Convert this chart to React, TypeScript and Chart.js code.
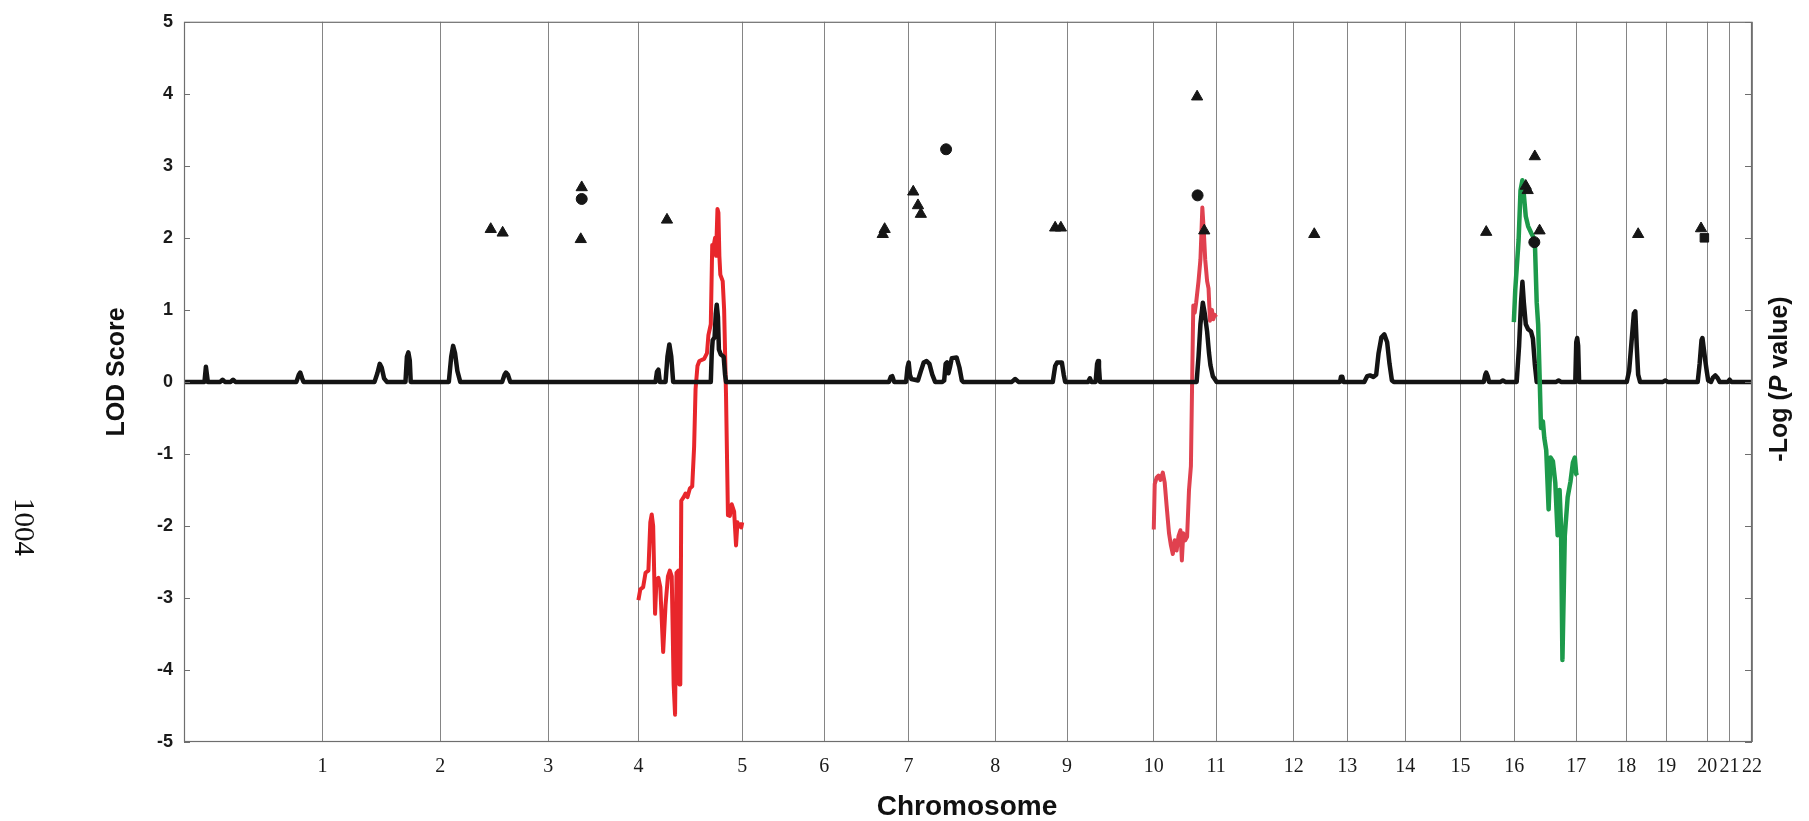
import React, { useEffect, useRef } from "react";
import { Chart, registerables } from "chart.js";

Chart.register(...registerables);

// Chromosome boundaries (cumulative cM) and their labels
const chromosomeLabels = ["1","2","3","4","5","6","7","8","9","10","11","12","13","14","15","16","17","18","19","20","21","22"];
const chromosomeEnds = [291, 538, 765, 954, 1172, 1344, 1521, 1703, 1854, 2036, 2167, 2330, 2442, 2564, 2680, 2793, 2923, 3028, 3112, 3198, 3245, 3292];

// Genome-wide LOD score (black) [cM, LOD]
const lodScore: [number, number][] = [
  [0,0],
  [43,0],[46,0.21],[50,0],
  [76,0],[81,0.03],[86,0],[98,0],[103,0.03],[108,0],
  [236,0],[241,0.1],[244,0.13],[248,0.05],[251,0],
  [400,0],[406,0.12],[411,0.25],[415,0.2],[420,0.05],[426,0],
  [465,0],[468,0.35],[471,0.41],[474,0.3],[476,0],
  [556,0],[561,0.35],[565,0.5],[569,0.4],[574,0.15],[580,0],
  [668,0],[673,0.1],[676,0.13],[680,0.1],[685,0],
  [990,0],[993,0.14],[996,0.17],[999,0],
  [1011,0],[1015,0.35],[1019,0.52],[1023,0.35],[1027,0],
  [1106,0],[1108,0.4],[1110,0.58],[1114,0.62],[1116.5,0.95],[1118.5,1.07],[1121,0.9],[1123,0.45],[1127,0.38],[1133,0.35],[1136,0.1],[1138,0],
  [1480,0],[1484,0.07],[1487,0.08],[1491,0],
  [1516,0],[1519,0.2],[1521.5,0.27],[1524,0.1],[1527,0.04],[1534,0.03],
  [1541,0.02],[1547,0.15],[1553,0.27],[1559,0.29],[1565,0.25],[1571,0.1],[1577,0],
  [1592,0],[1596,0.02],[1599,0.25],[1602,0.27],[1605,0.12],[1608,0.2],[1612,0.33],[1622,0.34],[1628,0.2],[1633,0.02],[1636,0],
  [1738,0],[1745,0.04],[1752,0],
  [1824,0],[1829,0.22],[1833,0.27],[1843,0.27],[1847,0.1],[1850,0],
  [1898,0],[1902,0.05],[1905,0],
  [1914,0],[1917,0.25],[1919,0.29],[1921,0.2],[1923,0],
  [2126,0],[2130,0.35],[2134,0.8],[2139,1.1],[2143,0.95],[2148,0.7],[2152,0.4],[2155,0.23],[2160,0.08],[2165,0.03],[2168,0],
  [2427,0],[2429,0.07],[2432,0.07],[2434,0],
  [2478,0],[2484,0.08],[2490,0.09],[2497,0.07],[2503,0.1],[2508,0.4],[2514,0.62],[2520,0.66],[2526,0.55],[2531,0.25],[2536,0.02],[2540,0],
  [2729,0],[2732,0.1],[2734,0.13],[2737,0.08],[2740,0],
  [2764,0],[2769,0.02],[2774,0],
  [2798,0],[2803,0.5],[2807,1.1],[2810,1.39],[2813,1.1],[2817,0.8],[2822,0.73],[2828,0.7],[2832,0.6],[2836,0.25],[2840,0],
  [2881,0],[2886,0.02],[2891,0],
  [2921,0],[2923,0.55],[2925,0.61],[2927,0.5],[2929,0],
  [3029,0],[3034,0.15],[3039,0.55],[3044,0.95],[3047,0.98],[3050,0.5],[3053,0.1],[3057,0],
  [3105,0],[3110,0.02],[3115,0],
  [3178,0],[3182,0.25],[3186,0.58],[3188,0.61],[3191,0.45],[3194,0.29],[3197,0.15],[3200,0.02],[3206,0],[3210,0.06],[3215,0.09],[3220,0.05],[3224,0],
  [3241,0],[3245,0.03],[3249,0],
  [3292,0],
];

// Chromosome 4 fine map (red)
const chr4Scan: [number, number][] = [
  [954,-3.03],[958,-2.88],[964,-2.85],[969,-2.65],[975,-2.62],[979,-1.95],[982,-1.84],[985,-2.0],
  [989,-3.22],[992,-2.75],[996,-2.72],[1000,-2.85],[1006,-3.75],[1011,-3.1],[1016,-2.7],[1020,-2.62],
  [1024,-2.7],[1028,-4.2],[1031,-4.62],[1034,-2.65],[1038,-2.62],[1040,-4.2],[1042,-4.2],[1044,-1.65],
  [1049,-1.6],[1053,-1.55],[1057,-1.6],[1062,-1.48],[1067,-1.45],[1071,-0.9],[1074,-0.1],[1078,0.22],
  [1082,0.29],[1092,0.32],[1098,0.4],[1101,0.65],[1106,0.8],[1109,1.9],[1111,1.85],[1115,2.0],
  [1117,1.75],[1120,2.4],[1122,2.35],[1124,1.75],[1126,1.49],[1131,1.4],[1134,1.0],[1138,-0.2],
  [1142,-1.85],[1146,-1.86],[1150,-1.7],[1155,-1.8],[1159,-2.27],[1162,-1.95],[1166,-2.0],[1170,-2.02],[1172,-1.95],
];

// Chromosome 10 fine map (red)
const chr10Scan: [number, number][] = [
  [2036,-2.05],[2038,-1.42],[2042,-1.33],[2046,-1.3],[2050,-1.36],[2055,-1.26],[2059,-1.4],[2063,-1.72],
  [2068,-2.1],[2072,-2.27],[2076,-2.39],[2080,-2.2],[2084,-2.34],[2088,-2.14],[2092,-2.06],[2095,-2.48],
  [2098,-2.1],[2102,-2.2],[2106,-2.15],[2110,-1.5],[2114,-1.17],[2117,0.2],[2119,1.06],[2122,0.96],
  [2125,1.1],[2130,1.4],[2134,1.7],[2138,2.42],[2141,2.1],[2144,1.7],[2148,1.4],[2151,1.3],
  [2154,0.85],[2158,1.0],[2161,0.87],[2164,0.93],[2167,0.9],
];

// Chromosome 16 fine map (green)
const chr16Scan: [number, number][] = [
  [2792,0.83],[2795,1.28],[2802,1.97],[2806,2.66],[2810,2.8],[2813,2.6],[2817,2.3],[2822,2.16],
  [2829,2.06],[2836,1.97],[2840,1.1],[2843,0.8],[2846,0.1],[2849,-0.64],[2853,-0.55],[2856,-0.78],
  [2860,-0.95],[2865,-1.77],[2869,-1.05],[2874,-1.1],[2879,-1.4],[2884,-2.13],[2888,-1.5],[2891,-2.0],
  [2894,-3.86],[2899,-2.13],[2905,-1.6],[2911,-1.38],[2916,-1.12],[2920,-1.05],[2923,-1.28],[2925,-1.3],
];

// -Log(P value) markers
const triangleMarkers: [number, number][] = [
  [644,2.12],[669,2.07],[835,2.70],[833,1.98],[1014,2.25],[1467,2.05],[1471,2.12],
  [1531,2.64],[1541,2.45],[1547,2.33],[1829,2.14],[1841,2.14],[2127,3.96],[2142,2.10],
  [2373,2.05],[2734,2.08],[2817,2.72],[2821,2.66],[2836,3.13],[2846,2.10],[3053,2.05],[3185,2.13],
];
const circleMarkers: [number, number][] = [
  [835,2.54],[1600,3.23],[2128,2.59],[2835,1.94],
];
const squareMarkers: [number, number][] = [
  [3192,2.0],
];

const yTicks = [-5,-4,-3,-2,-1,0,1,2,3,4,5];

const SANS = '"Liberation Sans", Arial, sans-serif';
const SERIF = '"Liberation Serif", "Times New Roman", serif';

const toXY = (arr: [number, number][]) => arr.map(([x, y]) => ({ x, y }));

const framePlugin = {
  id: "frameAndTitles",
  afterDraw(chart: any) {
    const { ctx, chartArea } = chart;
    const { left, right, top, bottom } = chartArea;
    const yScale = chart.scales.y;
    ctx.save();
    // frame
    ctx.strokeStyle = "#6e6e6e";
    ctx.lineWidth = 1.2;
    ctx.strokeRect(left + 0.5, top + 0.5, right - left - 1, bottom - top - 1);
    // inside ticks on both sides
    ctx.lineWidth = 1;
    for (const v of yTicks) {
      const py = Math.round(yScale.getPixelForValue(v)) + 0.5;
      ctx.beginPath();
      ctx.moveTo(left, py);
      ctx.lineTo(left + 6, py);
      ctx.moveTo(right - 7, py);
      ctx.lineTo(right, py);
      ctx.stroke();
    }
    ctx.fillStyle = "#111";
    // left title
    ctx.save();
    ctx.translate(124, 372);
    ctx.rotate(-Math.PI / 2);
    ctx.font = `bold 25px ${SANS}`;
    ctx.textAlign = "center";
    ctx.textBaseline = "alphabetic";
    ctx.fillText("LOD Score", 0, 0);
    ctx.restore();
    // bottom title
    ctx.font = `bold 28px ${SANS}`;
    ctx.textAlign = "center";
    ctx.textBaseline = "alphabetic";
    ctx.fillText("Chromosome", 967, 815);
    // right title with italic P
    ctx.save();
    ctx.translate(1787, 379);
    ctx.rotate(-Math.PI / 2);
    ctx.textAlign = "left";
    ctx.textBaseline = "alphabetic";
    const parts: [string, string][] = [
      ["-Log (", `bold 25px ${SANS}`],
      ["P", `italic bold 25px ${SANS}`],
      [" value)", `bold 25px ${SANS}`],
    ];
    let total = 0;
    for (const [t, f] of parts) { ctx.font = f; total += ctx.measureText(t).width; }
    let cx = -total / 2;
    for (const [t, f] of parts) { ctx.font = f; ctx.fillText(t, cx, 0); cx += ctx.measureText(t).width; }
    ctx.restore();
    // page number
    ctx.save();
    ctx.translate(22.5, 527);
    ctx.rotate(Math.PI / 2);
    ctx.font = `29px ${SERIF}`;
    ctx.textAlign = "center";
    ctx.textBaseline = "middle";
    ctx.fillText("1004", 0, 0);
    ctx.restore();
    ctx.restore();
  },
};

export default function App() {
  const canvasRef = useRef<HTMLCanvasElement | null>(null);

  useEffect(() => {
    if (!canvasRef.current) return;
    const markerBase = {
      showLine: false,
      yAxisID: "y2",
      backgroundColor: "#161616",
      borderColor: "#161616",
      pointBorderWidth: 1,
      order: 0,
    };
    const chart = new Chart(canvasRef.current, {
      type: "line",
      data: {
        datasets: [
          { ...markerBase, label: "Triangles", data: toXY(triangleMarkers), pointStyle: "triangle", pointRadius: 6.5 } as any,
          { ...markerBase, label: "Circles", data: toXY(circleMarkers), pointStyle: "circle", pointRadius: 5.5 } as any,
          { ...markerBase, label: "Squares", data: toXY(squareMarkers), pointStyle: "rect", pointRadius: 6 } as any,
          { label: "Chr16", data: toXY(chr16Scan), borderColor: "#1d9a4b", borderWidth: 4.5, pointRadius: 0, yAxisID: "y", order: 1, borderJoinStyle: "round" } as any,
          { label: "LOD", data: toXY(lodScore), borderColor: "#141414", borderWidth: 4.5, pointRadius: 0, yAxisID: "y", order: 2, borderJoinStyle: "round" } as any,
          { label: "Chr4", data: toXY(chr4Scan), borderColor: "#e8262b", borderWidth: 4, pointRadius: 0, yAxisID: "y", order: 3, borderJoinStyle: "round" } as any,
          { label: "Chr10", data: toXY(chr10Scan), borderColor: "#e0414f", borderWidth: 4, pointRadius: 0, yAxisID: "y", order: 3, borderJoinStyle: "round" } as any,
        ],
      },
      options: {
        responsive: false,
        animation: false,
        devicePixelRatio: 1,
        layout: { padding: { top: 15, left: 0, right: 0, bottom: 0 } },
        plugins: { legend: { display: false }, tooltip: { enabled: false } },
        scales: {
          x: {
            type: "linear",
            position: "bottom",
            min: 0,
            max: 3292,
            afterFit: (s: any) => { s.height = 79; },
            afterBuildTicks: (s: any) => { s.ticks = chromosomeEnds.map((v) => ({ value: v })); },
            ticks: {
              autoSkip: false,
              maxRotation: 0,
              minRotation: 0,
              padding: 13,
              color: "#1a1a1a",
              font: { family: SERIF, size: 20 },
              callback: (_v: any, i: number) => chromosomeLabels[i],
            },
            grid: { display: true, drawOnChartArea: true, drawTicks: false, color: "#858585", lineWidth: 1 },
            border: { display: false },
          },
          y: {
            type: "linear",
            position: "left",
            min: -5,
            max: 5,
            afterFit: (s: any) => { s.width = 184; },
            afterBuildTicks: (s: any) => { s.ticks = yTicks.map((v) => ({ value: v })); },
            ticks: {
              padding: 11,
              color: "#1a1a1a",
              font: { family: SANS, size: 18, weight: "bold" },
              callback: (v: any) => String(v),
            },
            grid: { display: false, drawOnChartArea: false, drawTicks: false },
            border: { display: false },
          },
          y2: {
            type: "linear",
            position: "right",
            min: -5,
            max: 5,
            afterFit: (s: any) => { s.width = 57; },
            ticks: { display: false },
            grid: { display: false, drawOnChartArea: false, drawTicks: false },
            border: { display: false },
          },
        },
      } as any,
      plugins: [framePlugin],
    });
    return () => chart.destroy();
  }, []);

  return (
    <div style={{ position: "fixed", left: 0, top: 0, width: 1809, height: 821, background: "#fff" }}>
      <canvas ref={canvasRef} width={1809} height={821} style={{ display: "block", width: 1809, height: 821 }} />
    </div>
  );
}
